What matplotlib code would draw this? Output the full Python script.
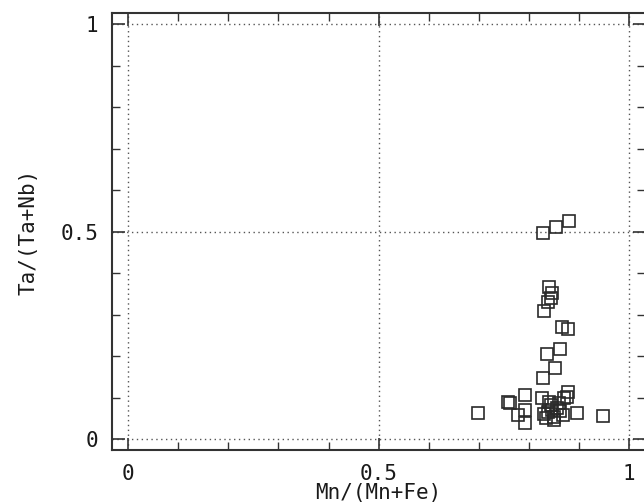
import numpy as np
import matplotlib.pyplot as plt
from matplotlib.ticker import MultipleLocator

# Mn/(Mn+Fe) vs Ta/(Ta+Nb)
mn = [0.828, 0.854, 0.880, 0.840, 0.845, 0.843, 0.838, 0.830, 0.866, 0.878,
      0.862, 0.836, 0.852, 0.828, 0.699, 0.758, 0.762, 0.792, 0.792, 0.778,
      0.792, 0.826, 0.878, 0.876, 0.896, 0.948, 0.838, 0.850, 0.867, 0.844,
      0.860, 0.870, 0.834, 0.845, 0.855, 0.840, 0.850, 0.862, 0.830]
ta = [0.496, 0.511, 0.525, 0.366, 0.352, 0.340, 0.330, 0.308, 0.270, 0.265,
      0.217, 0.205, 0.171, 0.147, 0.063, 0.089, 0.086, 0.106, 0.070, 0.058,
      0.039, 0.099, 0.113, 0.101, 0.063, 0.055, 0.065, 0.053, 0.058, 0.082,
      0.087, 0.099, 0.051, 0.070, 0.075, 0.090, 0.045, 0.068, 0.060]

major = [0, 0.5, 1]
major_labels = ['0', '0.5', '1']

plt.rcParams['font.family'] = ['DejaVu Sans Mono']

fig = plt.figure(figsize=(6.44, 5.04), dpi=100)
ax = fig.add_axes([0.174, 0.107, 0.828, 0.867])

ax.plot(mn, ta, linestyle='none', marker='s', markersize=8.5,
        markerfacecolor='none', markeredgecolor='#2a2a2a', markeredgewidth=1.2)

ax.set_xlim(-0.032, 1.032)
ax.set_ylim(-0.0265, 1.0265)
ax.set_xticks(major)
ax.set_xticklabels(major_labels)
ax.set_yticks(major)
ax.set_yticklabels(major_labels)
ax.xaxis.set_minor_locator(MultipleLocator(0.1))
ax.yaxis.set_minor_locator(MultipleLocator(0.1))
ax.tick_params(which='both', direction='in', top=True, right=True,
               labelsize=15, color='#333333', labelcolor='#1a1a1a')
ax.tick_params(which='major', length=9, width=1.2, pad=10)
ax.tick_params(which='minor', length=6, width=1.0)

for s in ax.spines.values():
    s.set_linewidth(1.5)
    s.set_color('#333333')

ax.grid(True, which='major', linestyle=(0, (1, 2.5)), color='#555555', linewidth=1.0)

ax.set_xlabel('Mn/(Mn+Fe)', fontsize=15, labelpad=-1, color='#1a1a1a')
ax.set_ylabel('Ta/(Ta+Nb)', fontsize=15, labelpad=16, color='#1a1a1a')

fig.savefig('out.png', dpi=100)
